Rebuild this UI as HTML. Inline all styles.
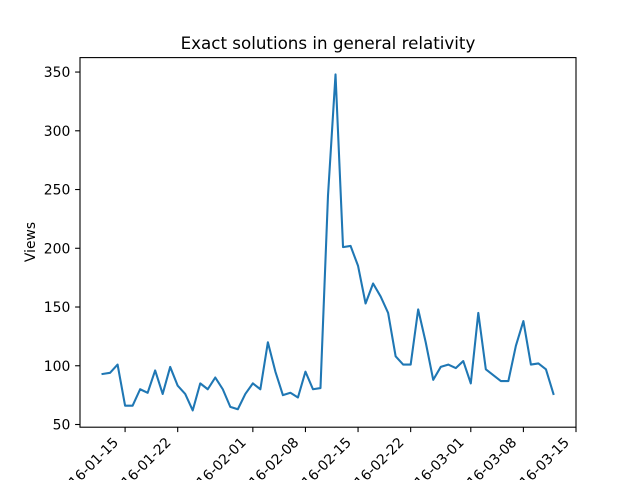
<!DOCTYPE html>
<html><head><meta charset="utf-8"><style>
body{margin:0;background:#fff;}
svg{display:block;font-family:"DejaVu Sans","Liberation Sans",sans-serif;}
</style></head><body>
<svg id="chart" width="640" height="480" viewBox="0 0 640 480">
<rect x="0" y="0" width="640" height="480" fill="#fff"/>
<text x="328" y="49" font-size="16.7" text-anchor="middle" fill="#000">Exact solutions in general relativity</text>
<text transform="translate(35,242) rotate(-90)" font-size="13.9" text-anchor="middle" fill="#000">Views</text>
<g id="plot"></g>
</svg>
<script>
const startDate = "2016-01-12";
const views = [93,94,101,66,66,80,77,96,76,99,83,76,62,85,80,90,80,65,63,76,85,80,120,95,75,77,73,95,80,81,245,348,201,202,185,153,170,159,145,108,101,101,148,120,88,99,101,98,104,85,145,97,92,87,87,117,138,101,102,97,76];
const yTicks = [50,100,150,200,250,300,350];
const xTickLabels = ["2016-01-15","2016-01-22","2016-02-01","2016-02-08","2016-02-15","2016-02-22","2016-03-01","2016-03-08","2016-03-15"];

const L=80,R=576,T=57.6,B=427.2;
const DAY=86400000;
const t0=Date.parse(startDate+"T00:00:00Z");
const n=views.length;
const xmin=-3, xmax=(n-1)+3;
const vmin=Math.min(...views), vmax=Math.max(...views), pad=(vmax-vmin)*0.05;
const ymin=vmin-pad, ymax=vmax+pad;
function xs(d){return L+(d-xmin)/(xmax-xmin)*(R-L);}
function ys(v){return B-(v-ymin)/(ymax-ymin)*(B-T);}
const NS="http://www.w3.org/2000/svg";
const g=document.getElementById('plot');
function mk(tag,attrs){const e=document.createElementNS(NS,tag);for(const k in attrs)e.setAttribute(k,attrs[k]);g.appendChild(e);return e;}

let pts=views.map((v,i)=>xs(i).toFixed(2)+","+ys(v).toFixed(2)).join(" ");
const line=mk('polyline',{points:pts,fill:'none',stroke:'#1f77b4','stroke-width':2.08,'stroke-linejoin':'round','stroke-linecap':'square'});



yTicks.forEach(v=>{
  const y=ys(v);
  const tk=mk('line',{x1:L-4.9,x2:L,y1:y,y2:y,stroke:'#000','stroke-width':1.1});
  
  
  const tx=mk('text',{x:L-9.7,y:y+5,'font-size':13.9,'text-anchor':'end',fill:'#000'});
  tx.textContent=v;
  
  
});
xTickLabels.forEach(s=>{
  const d=(Date.parse(s+"T00:00:00Z")-t0)/DAY;
  const x=xs(d);
  const tk=mk('line',{x1:x,x2:x,y1:B,y2:B+4.9,stroke:'#000','stroke-width':1.1});
  
  
  const tx=mk('text',{transform:`translate(${x-6},${B+16}) rotate(-45)`,'font-size':13.9,'text-anchor':'end',fill:'#000'});
  tx.textContent=s;
  
  
});
const fr=mk('rect',{x:L,y:T,width:R-L,height:B-T,fill:'none',stroke:'#000','stroke-width':1.1});


</script>
</body></html>
